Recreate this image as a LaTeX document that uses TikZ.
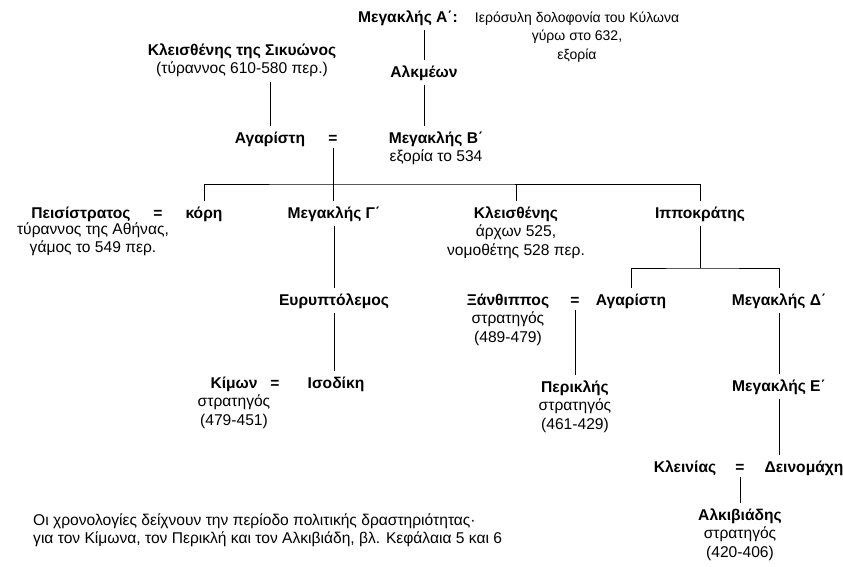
\documentclass[tikz,border=0pt]{standalone}
\usepackage{fontspec}
\setmainfont{Liberation Sans}
\usepackage{tikz}
\usetikzlibrary{positioning}

\begin{document}
\begin{tikzpicture}[x=1pt, y=-1pt,
  every node/.style={font=\fontsize{15.6}{18.5}\selectfont, inner sep=5pt, align=center},
  person/.style={font=\fontsize{15.6}{18.5}\selectfont\bfseries},
  note/.style={font=\fontsize{15.6}{18.5}\selectfont},
  link/.style={line width=0.9pt}]
\useasboundingbox (0,0) rectangle (843,566);

% Nodes (base = last line of the node)
\node[person, anchor=base] (megA) at (408,22) {Μεγακλής Α΄:};
\node[note, font=\fontsize{14}{18.5}\selectfont, anchor=base] (kylon) at (577,59) {Ιερόσυλη δολοφονία του Κύλωνα\\γύρω στο 632,\\εξορία};
\node[anchor=base] (kleisS) at (242,73.5) {\textbf{Κλεισθένης της Σικυώνος}\\(τύραννος 610-580 περ.)};
\node[person, anchor=base] (alk) at (424,77) {Αλκμέων};
\node[person, anchor=base] (agar1) at (270,143) {Αγαρίστη};
\node[person, anchor=base] (eq1) at (333,143) {=};
\node[anchor=base] (megB) at (436,161.5) {\textbf{Μεγακλής Β΄}\\εξορία το 534};

\node[person, anchor=base] (peis) at (81,218) {Πεισίστρατος};
\node[note, below=-9pt of peis, xshift=12pt] (peisnote) {τύραννος της Αθήνας,\\γάμος το 549 περ.};
\node[person, anchor=base] (eq2) at (158,218) {=};
\node[person, anchor=base] (kori) at (204,218) {κόρη};
\node[person, anchor=base] (megG) at (334,218) {Μεγακλής Γ΄};
\node[anchor=base] (kleis) at (516,255) {\textbf{Κλεισθένης}\\άρχων 525,\\νομοθέτης 528 περ.};
\node[person, anchor=base] (ippo) at (700,218) {Ιπποκράτης};

\node[person, anchor=base] (eury) at (334,305) {Ευρυπτόλεμος};
\node[anchor=base] (xanth) at (508,342) {\textbf{Ξάνθιππος}\\στρατηγός\\(489-479)};
\node[person, anchor=base] (eq3) at (575,305) {=};
\node[person, anchor=base] (agar2) at (631,305) {Αγαρίστη};
\node[person, anchor=base] (megD) at (779,305) {Μεγακλής Δ΄};

\node[anchor=base] (kimon) at (234,425) {\textbf{Κίμων}\\στρατηγός\\(479-451)};
\node[person, anchor=base] (eq4) at (275,388) {=};
\node[person, anchor=base] (isod) at (336,388) {Ισοδίκη};
\node[anchor=base] (peri) at (575,429) {\textbf{Περικλής}\\στρατηγός\\(461-429)};
\node[person, anchor=base] (megE) at (779,391) {Μεγακλής Ε΄};

\node[person, anchor=base] (klein) at (685,472) {Κλεινίας};
\node[person, anchor=base] (eq5) at (740,472) {=};
\node[person, anchor=base] (dein) at (804,472) {Δεινομάχη};
\node[anchor=base] (alkib) at (740,557) {\textbf{Αλκιβιάδης}\\στρατηγός\\(420-406)};

\node[note, align=left, anchor=base west] (foot) at (28,543.5) {Οι χρονολογίες δείχνουν την περίοδο πολιτικής δραστηριότητας·\\για τον Κίμωνα, τον Περικλή και τον Αλκιβιάδη, βλ. Κεφάλαια 5 και 6};

\coordinate (bar1) at (333,184);
\coordinate (bar2) at (700,268);

% Lines
\draw[link] (alk.north |- megA.south) -- (alk.north);
\draw[link] (alk.south) -- (alk.south |- megB.north);
\draw[link] (agar1.north |- kleisS.south) -- (agar1.north);
\draw[link] (eq1.south) -- (eq1.south |- megG.north);
\draw[link] (kori.north) |- (bar1) -| (ippo.north);
\draw[link] (kleis.north) -- (kleis.north |- bar1);
\draw[link] (megG.south) -- (eury.north);
\draw[link] (eury.south) -- (eury.south |- isod.north);
\draw[link] (ippo.south) -- (bar2);
\draw[link] (agar2.north) |- (bar2) -| (megD.north);
\draw[link] (eq3.south) -- (eq3.south |- peri.north);
\draw[link] (megD.south) -- (megE.north);
\draw[link] (megE.south) -- (megE.south |- dein.north);
\draw[link] (eq5.south) -- (eq5.south |- alkib.north);
\end{tikzpicture}
\end{document}
